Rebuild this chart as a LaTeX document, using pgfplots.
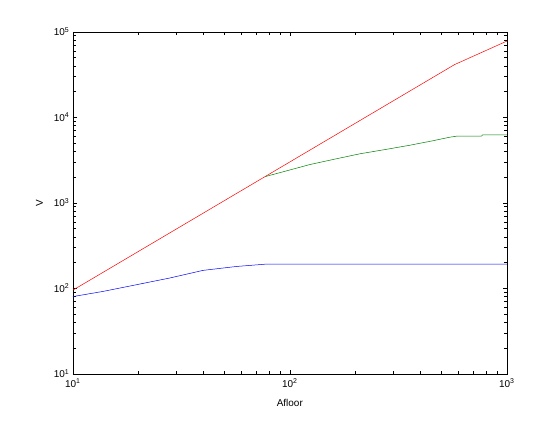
\documentclass[border=0pt]{standalone}
\usepackage{pgfplots}
\pgfplotsset{compat=1.18}
\usepackage{fontspec}
\setmainfont{Liberation Sans}
\begin{document}
\begin{tikzpicture}[x=1bp,y=1bp]
\useasboundingbox (0,0) rectangle (560,420);
\begin{axis}[
  at={(72.8bp,46.2bp)}, anchor=south west,
  scale only axis, width=434bp, height=342bp,
  xmode=log, ymode=log, log basis x=10, log basis y=10,
  xmin=10, xmax=1000, ymin=10, ymax=100000,
  axis line style={line width=0.5pt},
  tick style={black, line width=0.5pt},
  tick align=inside,
  major tick length=4.3bp, minor tick length=2.8bp,
  xticklabel={\pgfmathparse{int(round(\tick))}10\textsuperscript{\pgfmathresult}},
  yticklabel={\pgfmathparse{int(round(\tick))}10\textsuperscript{\pgfmathresult}},
  tick label style={font=\fontsize{10}{12}\selectfont},
  xticklabel style={yshift=-1.5bp},
  label style={font=\fontsize{10}{12}\selectfont},
  xlabel={Afloor}, ylabel={V},
  xlabel style={yshift=-5bp},
  ylabel style={yshift=4bp},
  every axis plot/.append style={line width=0.5pt},
]
\addplot[red] coordinates {(10,95) (575,41400) (1000,77800)};
\addplot[color={rgb,1:red,0;green,0.5;blue,0}] coordinates {
 (77.3,2030) (100,2420) (123.6,2800) (160,3230) (210,3740) (280,4230) (357,4710) (450,5280) (546,5850) (586,6010) (764,6010) (774,6240) (1000,6240)};
\addplot[blue] coordinates {
 (10,80) (13.8,92) (19.6,110) (28,132) (39.8,162) (56.7,180) (78,192) (1000,192)};
\end{axis}
\end{tikzpicture}
\end{document}
